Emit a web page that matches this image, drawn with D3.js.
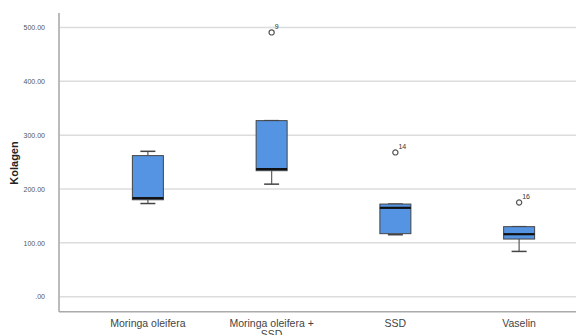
<!DOCTYPE html>
<html>
<head>
<meta charset="utf-8">
<script src="https://cdn.jsdelivr.net/npm/d3@7"></script>
<style>
body { margin: 0; background: #fff; }
svg { display: block; font-family: "Liberation Sans", Arial, sans-serif; }
</style>
</head>
<body>
<svg id="chart" width="576" height="335"></svg>
<script>
// box plot values
var categories = ["Moringa oleifera", "Moringa oleifera + SSD", "SSD", "Vaselin"];
var mins    = [173, 209, 115, 84];
var q1s     = [180, 234, 117, 107];
var medians = [183, 237, 165, 116];
var q3s     = [262, 327, 172, 130];
var maxs    = [270, 327, 172, 130];
var outliers = [
    {cat: "Moringa oleifera + SSD", value: 491, label: "9"},
    {cat: "SSD", value: 268, label: "14"},
    {cat: "Vaselin", value: 175, label: "16"}
];
var yTicks = [0, 100, 200, 300, 400, 500];

var svg = d3.select("#chart");
var W = 576, H = 335;
var padLeft = 59, padTop = 13, padBottom = 311.7;

var x = d3.scaleBand()
    .domain(categories)
    .range([86, 581]);

var y = d3.scaleLinear()
    .domain([-28, 527])
    .range([padBottom, padTop]);

// gridlines
svg.append("g")
    .selectAll("line")
    .data(yTicks)
    .enter().append("line")
    .attr("x1", padLeft + 1)
    .attr("x2", W)
    .attr("y1", function(d){ return y(d); })
    .attr("y2", function(d){ return y(d); })
    .style("stroke", "#dcdcdc")
    .style("stroke-width", 1.5);

// y axis
var y_axis = d3.axisLeft(y)
    .tickValues(yTicks)
    .tickSize(0)
    .tickPadding(14)
    .tickFormat(function(d){ return d === 0 ? ".00" : d3.format(".2f")(d); });
var gy = svg.append("g")
    .attr("transform", "translate(" + padLeft + ",0)")
    .call(y_axis);
gy.select(".domain").remove();
gy.selectAll("text")
    .style("font-size", "7px")
    .style("fill", "#555");

// axis lines
svg.append("line")
    .attr("x1", padLeft).attr("x2", padLeft)
    .attr("y1", padTop).attr("y2", padBottom)
    .style("stroke", "#aaa").style("stroke-width", 1.6);
svg.append("line")
    .attr("x1", padLeft).attr("x2", W)
    .attr("y1", padBottom).attr("y2", padBottom)
    .style("stroke", "#aaa").style("stroke-width", 1.6);

// x labels
var gx = svg.append("g");
categories.forEach(function(c){
    var cx = x(c) + x.bandwidth() / 2;
    var t = gx.append("text")
        .attr("x", cx)
        .attr("y", 327)
        .attr("text-anchor", "middle")
        .style("font-size", "10.5px")
        .style("fill", "#444");
    if (c === "Moringa oleifera + SSD") {
        t.append("tspan").attr("x", cx).text("Moringa oleifera +");
        t.append("tspan").attr("x", cx).attr("dy", 10.5).text("SSD");
    } else {
        t.text(c);
    }
});

// y title
svg.append("text")
    .attr("transform", "translate(18," + 163 + ") rotate(-90)")
    .attr("text-anchor", "middle")
    .style("font-size", "11px")
    .style("font-weight", "bold")
    .style("fill", "#222")
    .text("Kolagen");

// boxes
var boxW = 31, capW = 15;
var boxes = categories.map(function(c, i){
    return {cat: c, min: mins[i], q1: q1s[i], med: medians[i], q3: q3s[i], max: maxs[i]};
});
var g = svg.selectAll(".box")
    .data(boxes)
    .enter().append("g")
    .attr("class", "box")
    .attr("transform", function(d){ return "translate(" + (x(d.cat) + x.bandwidth() / 2) + ",0)"; });

// whiskers
g.append("line")
    .attr("x1", 0).attr("x2", 0)
    .attr("y1", function(d){ return y(d.max); })
    .attr("y2", function(d){ return y(d.q3); })
    .style("stroke", "#666").style("stroke-width", 1.3);
g.append("line")
    .attr("x1", 0).attr("x2", 0)
    .attr("y1", function(d){ return y(d.q1); })
    .attr("y2", function(d){ return y(d.min); })
    .style("stroke", "#666").style("stroke-width", 1.3);
g.append("line")
    .attr("x1", -capW / 2).attr("x2", capW / 2)
    .attr("y1", function(d){ return y(d.max); })
    .attr("y2", function(d){ return y(d.max); })
    .style("stroke", "#444").style("stroke-width", 1.5);
g.append("line")
    .attr("x1", -capW / 2).attr("x2", capW / 2)
    .attr("y1", function(d){ return y(d.min); })
    .attr("y2", function(d){ return y(d.min); })
    .style("stroke", "#444").style("stroke-width", 1.5);

g.append("rect")
    .attr("x", -boxW / 2)
    .attr("width", boxW)
    .attr("y", function(d){ return y(d.q3); })
    .attr("height", function(d){ return y(d.q1) - y(d.q3); })
    .style("fill", "#5594e2")
    .style("stroke", "#444")
    .style("stroke-width", 1);

g.append("line")
    .attr("x1", -boxW / 2).attr("x2", boxW / 2)
    .attr("y1", function(d){ return y(d.med); })
    .attr("y2", function(d){ return y(d.med); })
    .style("stroke", "#111")
    .style("stroke-width", 2.2);

// outliers
var og = svg.selectAll(".outlier")
    .data(outliers)
    .enter().append("g")
    .attr("class", "outlier")
    .attr("transform", function(d){ return "translate(" + (x(d.cat) + x.bandwidth() / 2) + "," + y(d.value) + ")"; });
og.append("circle")
    .attr("r", 2.6)
    .style("fill", "#fff")
    .style("stroke", "#555")
    .style("stroke-width", 1.2);
og.append("text")
    .attr("x", 3)
    .attr("y", -3)
    .style("font-size", "7px")
    .style("fill", "#333")
    .text(function(d){ return d.label; });
</script>
</body>
</html>
